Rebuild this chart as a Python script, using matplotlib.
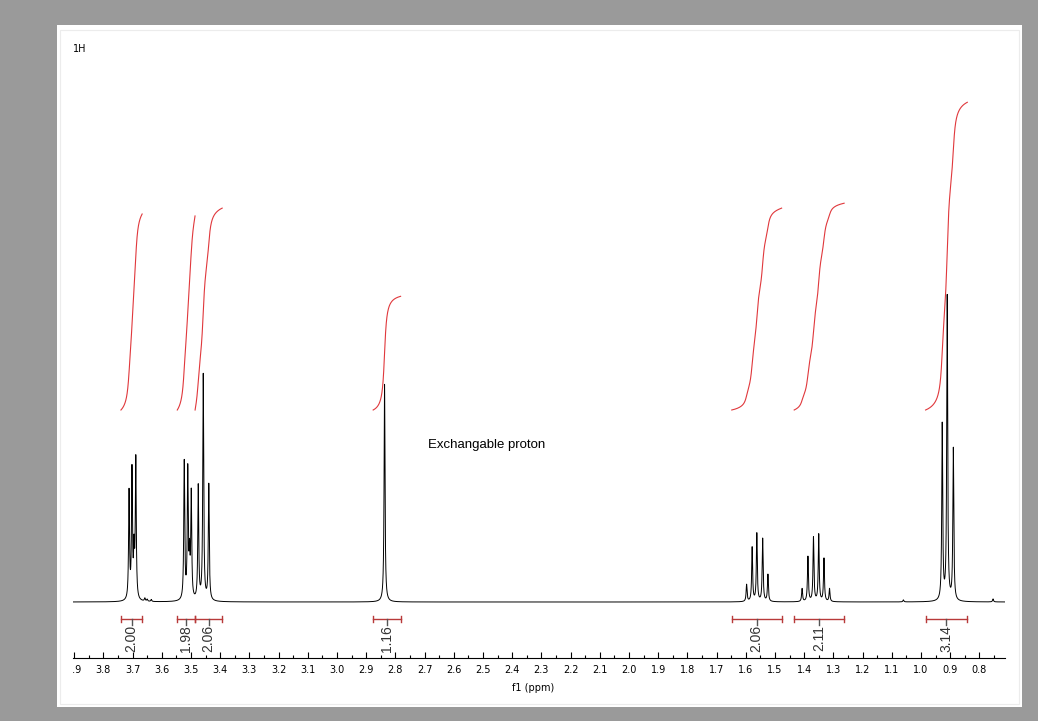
import matplotlib.pyplot as plt
import numpy as np
from matplotlib.patches import Rectangle
from matplotlib.ticker import MultipleLocator
from matplotlib.transforms import Bbox, TransformedBbox

W, H = 1038, 721

# peak list: position (ppm) and height above baseline
peak_ppm = [3.712, 3.702, 3.695, 3.689,
            3.658, 3.650, 3.636,
            3.523, 3.511, 3.505, 3.499,
            3.475, 3.458, 3.439,
            2.837,
            1.597, 1.578, 1.562, 1.542, 1.524,
            1.407, 1.387, 1.368, 1.350, 1.332, 1.313,
            1.060,
            0.927, 0.910, 0.889,
            0.753]
peak_height = [108, 128, 45, 140,
               3, 2, 2,
               138, 128, 40, 105,
               114, 226, 116,
               218,
               17, 54, 68, 63, 27,
               13, 45, 64, 67, 43, 13,
               2,
               176, 305, 152,
               3]
line_width = 0.0019  # half width at half height, ppm
int_width = 0.006    # broader line used for the smoothed integral trace

# integral regions (ppm from, ppm to) and their values
int_start = [3.740, 3.547, 3.486, 2.876, 1.648, 1.434, 0.984]
int_end = [3.667, 3.486, 3.393, 2.782, 1.477, 1.263, 0.841]
int_value = [2.00, 1.98, 2.06, 1.16, 2.06, 2.11, 3.14]

major_ticks = np.round(np.arange(0.8, 3.95, 0.1), 1)

ppm = np.linspace(3.904, 0.712, 16001)
spec = np.zeros_like(ppm)
spec_int = np.zeros_like(ppm)
for p, h in zip(peak_ppm, peak_height):
    spec += h * line_width**2 / ((ppm - p) ** 2 + line_width**2)
    spec_int += h * int_width / ((ppm - p) ** 2 + int_width**2)

fig = plt.figure(figsize=(W / 100, H / 100), dpi=100)
fig.patch.set_facecolor("#9a9a9a")
fig.add_artist(Rectangle((57 / W, 1 - 707 / H), (1022 - 57) / W, (707 - 25) / H,
                         transform=fig.transFigure, facecolor="white",
                         edgecolor="none", zorder=-2))
fig.add_artist(Rectangle((59.5 / W, 1 - 704 / H), (1019 - 59.5) / W, (704 - 29.5) / H,
                         transform=fig.transFigure, facecolor="none",
                         edgecolor="#ececec", lw=0.8, zorder=-1))

ax = fig.add_axes([73 / W, 1 - 658 / H, (1005 - 73) / W, 618 / H])
ax.set_facecolor("white")
ax.set_xlim(3.904, 0.712)
ax.set_ylim(-56, 562)

ax.plot(ppm, spec, color="black", lw=0.7)

# integral curves and brackets
scale = 98
for s, e, v in zip(int_start, int_end, int_value):
    m = (ppm <= s) & (ppm >= e)
    cum = np.cumsum(spec_int[m])
    cum = (cum - cum[0]) / (cum[-1] - cum[0])
    ax.plot(ppm[m], 192 + cum * v * scale, color="#e0383c", lw=0.8)

    c = (s + e) / 2
    ax.plot([s, e], [-17, -17], color="#b83a3a", lw=1.0)
    ax.plot([s, s], [-14, -20], color="#b83a3a", lw=1.0)
    ax.plot([e, e], [-14, -20], color="#b83a3a", lw=1.0)
    ax.plot([c, c], [-17, -23], color="#555555", lw=1.0)
    ax.text(c, -23, f"{v:.2f}", rotation=90, ha="center", va="top",
            fontsize=10, family="Liberation Sans", color="#333333")

ax.text(2.688, 157, "Exchangable proton", ha="left", va="center",
        fontsize=9.5, family="Liberation Sans", color="black")

for side in ["top", "left", "right"]:
    ax.spines[side].set_visible(False)
ax.spines["bottom"].set_linewidth(0.8)
ax.set_yticks([])
ax.set_xticks(major_ticks)
ax.set_xticklabels([f"{t:.1f}" for t in major_ticks])
ax.xaxis.set_minor_locator(MultipleLocator(0.05))
ax.tick_params(axis="x", which="major", direction="in", length=4.5, width=0.8,
               pad=5, labelsize=7)
ax.tick_params(axis="x", which="minor", direction="in", length=2.5, width=0.8)

clip = TransformedBbox(Bbox.from_extents(73 / W, 0, 1005 / W, 1), fig.transFigure)
for t in ax.xaxis.get_major_ticks():
    t.label1.set_clip_box(clip)
    t.label1.set_clip_on(True)

ax.set_xlabel("f1 (ppm)", fontsize=7)
ax.xaxis.set_label_coords((533 - 73) / 932, -0.04)

fig.text(73 / W, 1 - 49 / H, "1H", fontsize=7, ha="left", va="center")

fig.savefig("out.png", dpi=100, facecolor=fig.get_facecolor())
